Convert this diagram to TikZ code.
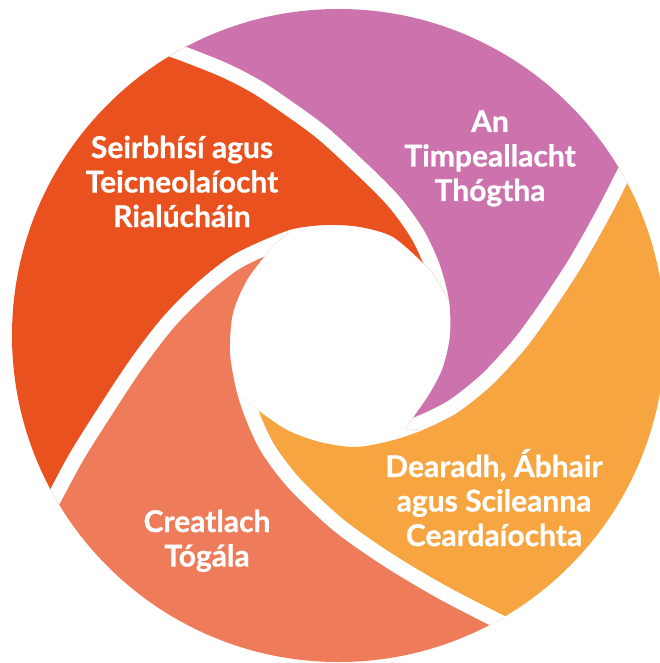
\documentclass[tikz,border=0pt]{standalone}
\usepackage{fontspec}
\setmainfont{Lato}[BoldFeatures={FakeBold=0.8}]
\definecolor{cRed}{HTML}{E9511F}
\definecolor{cPurple}{HTML}{CC72AC}
\definecolor{cOrange}{HTML}{F6A541}
\definecolor{cSalmon}{HTML}{EE7C5A}
\begin{document}
\begin{tikzpicture}[x=1pt,y=-1pt,
  lbl/.style={text=white, font=\fontsize{30}{34.5}\selectfont\bfseries, inner sep=0pt, anchor=base},
  gapline/.style={draw=white, line width=30pt}]
\fill[white] (0,0) rectangle (659,663);
\useasboundingbox (0,0) rectangle (659,663);
\begin{scope}
\clip (338.5,335.5) circle (326.5pt);
% red segment
\begin{scope}
\clip (430.6,269.5) -- plot[smooth] coordinates {(423,263) (393,237) (360,227) (327,225) (293,229) (262,241) (230,257) (197,283) (163,317) (130,360) (97,410) (70,453) (50,490) (37,514)} -- (-60,560) -- (-60,-60) -- (140,-40) -- plot[smooth] coordinates {(159,37) (187,47) (227,63) (260,80) (293,102) (327,127) (360,157) (387,183) (405,203) (425,232) (440,265) (449,300)} -- cycle;
\fill[cRed] (-100,-100) rectangle (800,800);
\draw[gapline] plot[smooth] coordinates {(410,422) (430,393) (443,367) (450,335) (449,300) (440,265) (425,232) (405,203) (387,183) (360,157) (327,127) (293,102) (260,80) (227,63) (187,47) (159,37)};
\end{scope}
% purple segment
\begin{scope}
\clip (405.5,428.6) -- plot[smooth] coordinates {(410,422) (430,393) (443,367) (450,335) (449,300) (440,265) (425,232) (405,203) (387,183) (360,157) (327,127) (293,102) (260,80) (227,63) (187,47) (159,37)} -- (140,-40) -- (720,-60) -- (720,120) -- plot[smooth] coordinates {(641,156) (628,182) (610,217) (583,265) (555,308) (530,343) (513,363) (490,387) (457,413) (423,430)} -- cycle;
\fill[cPurple] (-100,-100) rectangle (800,800);
\draw[gapline] plot[smooth] coordinates {(255,408) (287,430) (320,442) (355,447) (390,441) (423,430) (457,413) (490,387) (513,363) (530,343) (555,308) (583,265) (610,217) (628,182) (641,156)};
\end{scope}
% orange segment
\begin{scope}
\clip (248.4,403.5) -- plot[smooth] coordinates {(255,408) (287,430) (320,442) (355,447) (390,441) (423,430) (457,413) (490,387) (513,363) (530,343) (555,308) (583,265) (610,217) (628,182) (641,156)} -- (720,120) -- (720,720) -- (545,720) -- plot[smooth] coordinates {(522,641) (493,627) (437,598) (385,567) (335,532) (290,490) (263,455) (248,425) (237,393)} -- cycle;
\fill[cOrange] (-100,-100) rectangle (800,800);
\draw[gapline] plot[smooth] coordinates {(268,252) (247,280) (233,313) (230,353) (237,393) (248,425) (263,455) (290,490) (335,532) (385,567) (437,598) (493,627) (522,641)};
\end{scope}
% salmon segment
\begin{scope}
\clip (272.8,245.6) -- plot[smooth] coordinates {(268,252) (247,280) (233,313) (230,353) (237,393) (248,425) (263,455) (290,490) (335,532) (385,567) (437,598) (493,627) (522,641)} -- (545,720) -- (-60,720) -- (-60,560) -- plot[smooth] coordinates {(37,514) (50,490) (70,453) (97,410) (130,360) (163,317) (197,283) (230,257) (262,241) (293,229)} -- cycle;
\fill[cSalmon] (-100,-100) rectangle (800,800);
\draw[gapline] plot[smooth] coordinates {(423,263) (393,237) (360,227) (327,225) (293,229) (262,241) (230,257) (197,283) (163,317) (130,360) (97,410) (70,453) (50,490) (37,514)};
\end{scope}
\end{scope}
\node[lbl] (tRed) at (182,158) {\begin{tabular}[t]{@{}c@{}}Seirbhísí agus\\Teicneolaíocht\\Rialúcháin\end{tabular}};
\node[lbl] (tPurple) at (490,132) {\begin{tabular}[t]{@{}c@{}}An\\Timpeallacht\\Thógtha\end{tabular}};
\node[lbl] (tOrange) at (494,477) {\begin{tabular}[t]{@{}c@{}}Dearadh, Ábhair\\agus Scileanna\\Ceardaíochta\end{tabular}};
\node[lbl] (tSalmon) at (207,532) {\begin{tabular}[t]{@{}c@{}}Creatlach\\Tógála\end{tabular}};
\end{tikzpicture}
\end{document}
